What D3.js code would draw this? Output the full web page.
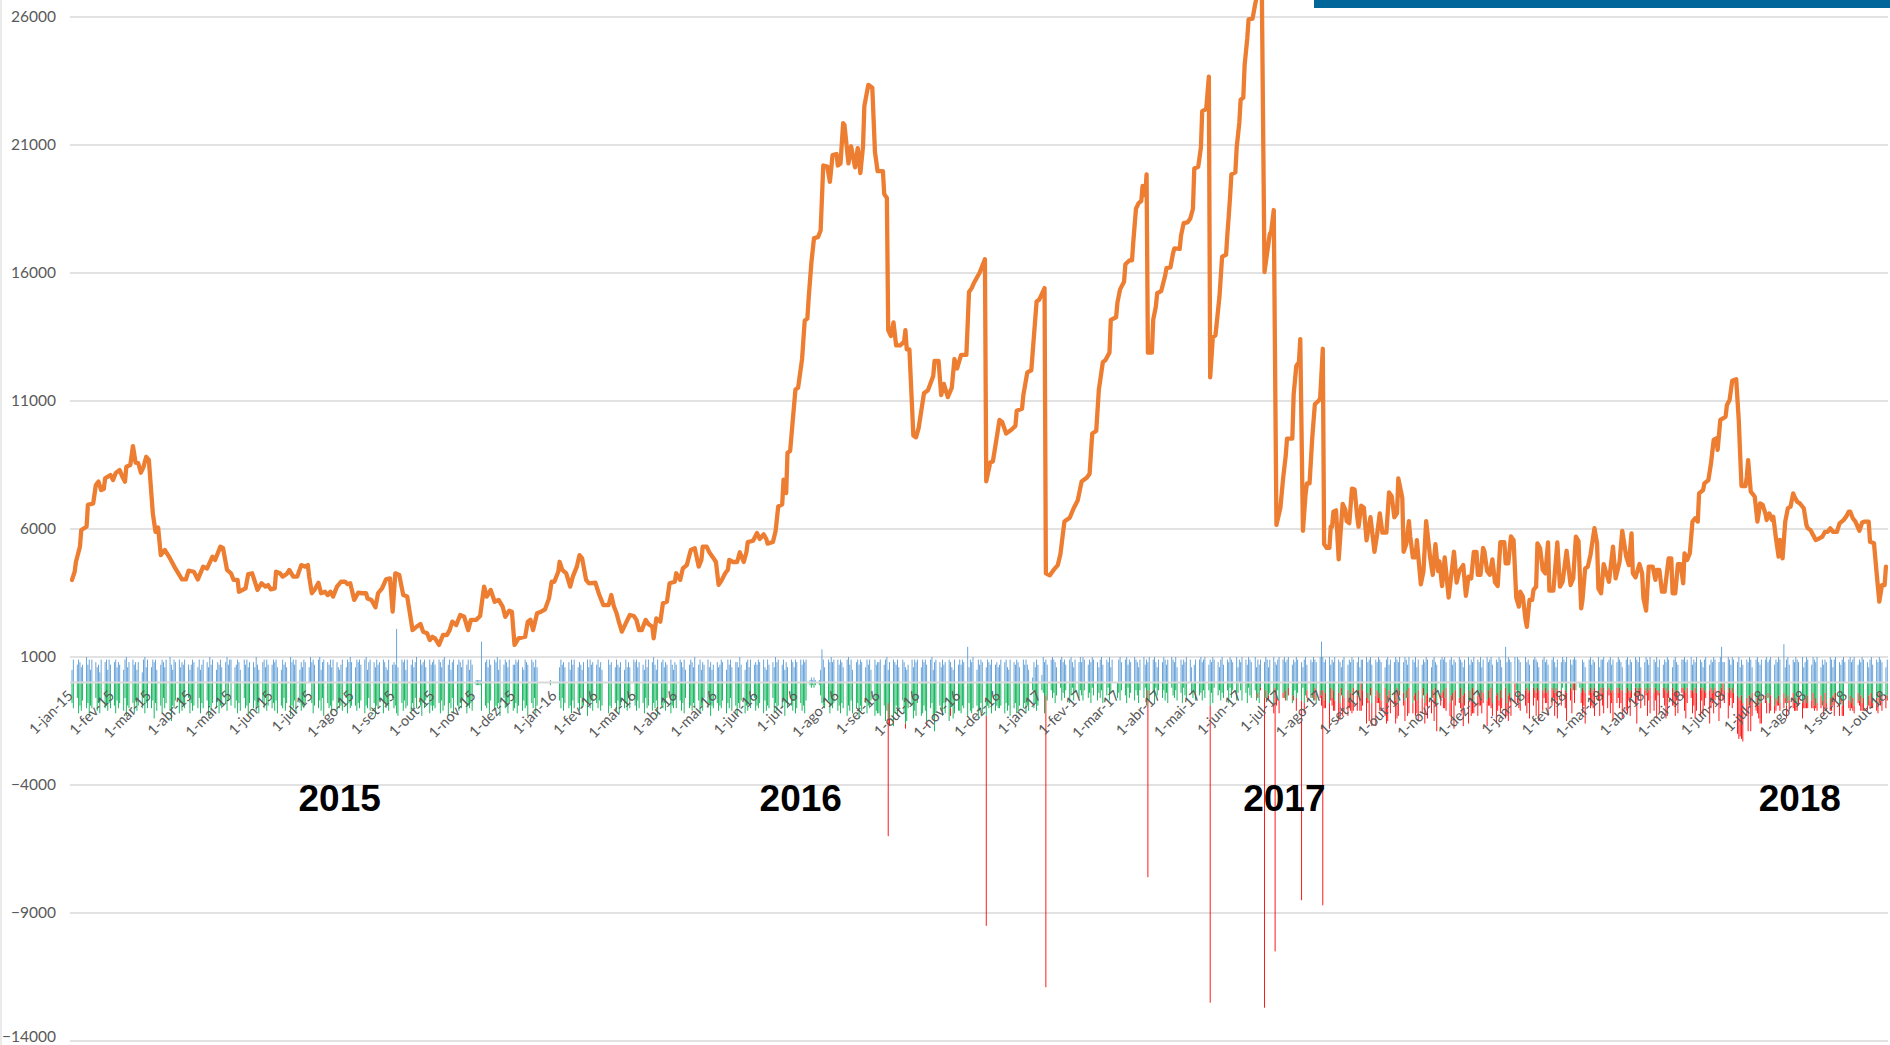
<!DOCTYPE html>
<html>
<head>
<meta charset="utf-8">
<script src="https://cdn.jsdelivr.net/npm/d3@7"></script>
<style>
  html, body { margin: 0; padding: 0; background: #ffffff; }
  svg { display: block; }
</style>
</head>
<body>
<svg id="chart" width="1890" height="1045"></svg>
<script>
// ---------------------------------------------------------------
// Data
// ---------------------------------------------------------------
const yTicks = [-14000, -9000, -4000, 1000, 6000, 11000, 16000, 21000, 26000];
const monthNames = ["jan", "fev", "mar", "abr", "mai", "jun", "jul", "ago", "set", "out", "nov", "dez"];
const yearLabels = ["2015", "2016", "2017", "2018"];
const yearLabelDates = ["2015-07-22", "2016-07-04", "2017-07-04", "2018-07-28"];

// Daily series (business days). One string per month, one character per day,
// value in hundreds written in base 36 ("a" = 1000, "g" = 1600 ...).
const blue2015 = ["5979867a795986749895976", "8968759a689785849a69786", "6989579869a759896879758", "7986957986a79587968a796",
  "9679859796886a758969786", "7989659786a8979586986a9", "8979a5898796986579698a8", "698979a5898697898659797",
  "87l6989597968a978969785", "979869a7958979869795978", "1111g8969798a5979869798", "79896598798696000001000"];
const blue2016 = ["0697868597968758969786", "796850097869768596869", "8968759698a759896879758", "7986957986a795879685796",
  "8679859796886a758969786", "7989659786a897958698697", "8979891212115d9698a89", "979869a7958979869795978",
  "8979a589879698657969897", "698979a5898697898659797", "9798e698a59798698797869", "7989659879869797528697"];
const blue2017 = ["3a8979a9869a8979a8698a9", "8a9798a9869a798a6900", "9a89a798a9869a798a9a869a", "8a979a98a69798a96079a8",
  "9a89a798a9869a798a98a698a", "8a97a98a69798a969a879a8", "9a89a798a9869a798a98a698", "ga89a798a9869a798a98a698a",
  "9a89a798a9869a798a98a6", "8a97a98a69798a969a879a8", "9a89a798a9869a798a98a69", "9a89a798a96e8a98a0a988"];
const blue2018 = ["0a8979a9869a8979a8698a9", "8a979a9009869a798a69", "9a89a798a9869a798a98a69", "8a97a98a69798a969a879a8",
  "9a89a798a9869a798a98ae8", "8a97a98a69798a969a879a8", "9a89a798a9f69a798a98a69", "8a97a98a69798a969a879a8",
  "9a89a798a9869a798a985", "69"];

const green2015 = ["8a6c9b7a8d9a6b8c7a9b8a", "9c7a8b6d9a8c7b9a6c8a", "a7e8b9c6a8bf9a7c8b9a6c", "8b9a6c8a7d9b8a6c9a8b7",
  "9a7c8b6a9d8a7b9c8a6b9", "a8b7c9a6b8d9a7c8b9a8", "8c9a7b6d8a9c7b8a9b6c8a9", "9b8a7c9a6b8d9a7c8a9b6",
  "a9cd8b7a9c8b6a9d8a7c9b", "9a8c7b9d8a6c9b8a7c9a8b", "1111b9a8c7b9a8d6a9c8b7a", "a8c9b7a9d8a6c9000001000"];
const green2016 = ["07a6b8a9c7a8b6a9d8a7b", "8a7b900c9a8b7c9a8b6a", "9b7a8c6a9b8a7d9a8b6c9a7", "a7b8c6a9b8a7c9b6a8d9a",
  "8b9a7c8a6b9d8a7c9b8a6b", "9a8c7b9a6c8b9a7d8a9b7c", "a8b9c7121211589a7c9a8", "b9c8ad9b7ca8e9b8c9a7dbca9",
  "cd9fb8ehc9db7cgfa9ebd8", "dc9bfa8ejc9bd8cfa9ecb9a", "bc9ad8bca9eb8cd9a8cb9ac", "a9c8b9da8cb9a8c9b3a8b9"];
const green2017 = ["34c5736485274638527463", "57364825746385274006", "47358264735836293748253", "6374825637482560463728",
  "5473639482537463826374", "3748256374826375482637", "4637285364728536472836", "5374826374825637482536",
  "3647285364728536472835", "4736285473628547362854", "3628547362854736285473", "4736285473628547036485"];
const green2018 = ["0324323423342432342332", "34230032423432432342", "4232343242334234324232", "3243242334232432433423",
  "2342334242323432432342", "3423245675869574869587", "5748596758469574869587", "6857496857948695748697",
  "7586947586957486947586", "65"];

const red2015 = ["", "", "", "", "", "", "", "", "", "", "", ""];
const red2016 = ["", "", "", "", "", "", "", "", "0000003000000020000000", "0000200000000000300000", "", ""];
const red2017 = ["", "", "", "", "", "0000000002010302040305", "2040302050204030205030",
  "4836a5384b6385a3749625b", "6a4839c5274b8a3649c5284", "5837a4295c6384a5397b426", "7495a3b6284c5937a48529",
  "4a6385b7294c5a36802637"];
const red2018 = ["06a4b7395c8264a7395b6", "7b5938004a6c2857b493", "5a7394c6285b7a4936c5284", "6394a75b2846c9375a4826",
  "48a6395c7b4a62d8495c6374", "5a7384fgehf7a4c9365b84a", "3524635243625346352463", "4253624352463524635246",
  "3625342635243625342635", "42"];

// Large one-day outflows
const redSpikeDates = ["2016-09-08", "2016-11-21", "2017-01-05", "2017-03-23", "2017-05-09",
  "2017-06-19", "2017-06-27", "2017-07-17", "2017-08-02"];
const redSpikeValues = [5200, 8200, 11400, 7300, 11600, 12100, 10300, 7800, 8400];

// Balance line: [days since 1-jan-2015, value]
const line2015 = [[0,4010],[2,4330],[3,4720],[6,5310],[7,5960],[11,6090],[12,6940],[16,7000],[18,7720],[20,7850],[22,7520],[24,7560],[25,7980],[29,8110],[31,7910],[33,8190],[36,8300],[38,8040],[40,7850],[41,8430],[44,8500],[46,9240],[48,8590],[50,8570],[52,8200],[54,8430],[56,8820],[58,8700],[61,6610],[63,5890],[65,6060],[67,4980],[70,5180],[74,4850],[78,4460],[83,4030],[86,4030],[88,4370],[92,4330],[95,4030],[99,4530],[102,4460],[106,4920],[108,4790],[112,5310],[114,5250],[117,4400],[120,4270],[122,4010],[125,4010],[126,3550],[131,3680],[133,4240],[136,4270],[140,3620],[143,3880],[146,3750],[148,3810],[150,3640],[153,3680],[154,4330],[157,4270],[159,4140],[162,4240],[164,4400],[167,4140],[170,4140],[173,4590],[176,4530],[178,4590],[179,4140],[181,3490],[183,3620],[186,3900],[188,3490],[191,3550],[193,3420],[195,3550],[197,3360],[200,3750],[203,3940],[206,3940],[208,3850],[210,3880],[213,3230],[216,3510],[219,3490],[222,3490],[223,3290],[226,3230],[229,2940],[231,3490],[234,3680],[237,4030],[240,4070],[242,2770],[244,4270],[247,4200],[250,3420],[253,3360],[255,2710],[257,2050],[260,2180],[263,2290],[265,1990],[268,1930],[270,1660],[272,1790],[274,1730],[277,1470],[280,1860],[283,1860],[285,2050],[287,2380],[290,2250],[293,2640],[296,2570],[299,2050],[301,2450],[305,2450],[308,2600],[311,3750],[313,3360],[316,3620],[319,3160],[322,3230],[325,2970],[327,2570],[330,2810],[332,2770],[334,1470],[337,1730],[342,1790],[344,2380],[346,2450],[348,2050],[351,2710],[354,2770],[357,2860],[360,3290],[362,3940],[364,3940]];
const line2016 = [[367,4330],[368,4720],[370,4400],[373,4270],[376,3750],[378,4140],[381,4530],[383,4980],[385,4850],[388,4010],[390,3880],[395,3900],[398,3420],[401,3030],[405,3030],[407,3420],[409,2970],[411,2710],[413,2320],[415,1990],[418,2320],[421,2640],[424,2600],[426,2450],[428,2050],[430,2050],[433,2450],[435,2290],[438,2180],[439,1730],[441,2510],[444,2380],[446,3100],[449,3160],[451,3880],[455,3940],[456,4270],[459,4010],[461,4460],[464,4590],[467,5180],[470,5250],[473,4530],[475,4790],[476,5310],[479,5310],[481,5090],[484,4870],[486,4710],[488,3820],[490,3970],[493,4270],[495,4410],[496,4790],[499,4710],[502,4710],[504,5090],[507,4710],[509,5090],[510,5490],[514,5540],[517,5840],[519,5610],[522,5790],[524,5610],[525,5430],[529,5490],[531,5910],[533,6880],[536,6960],[537,7930],[539,7400],[540,8980],[542,9050],[544,10260],[546,11450],[548,11520],[551,12640],[553,14140],[555,14220],[556,15040],[558,16390],[560,17360],[563,17400],[565,17660],[567,20200],[570,20160],[572,19560],[574,20610],[577,20650],[578,20200],[580,20280],[582,21850],[583,21780],[586,20280],[588,20950],[591,20130],[593,20880],[595,19900],[597,20950],[598,22520],[601,23350],[604,23240],[606,20730],[608,19980],[612,19980],[613,19080],[615,18930],[616,13770],[618,13540],[620,14070],[622,13170],[625,13170],[628,13320],[629,13770],[630,13020],[632,13020],[635,9650],[637,9580],[639,9950],[643,11300],[646,11420],[650,11980],[651,12570],[654,12570],[656,11230],[658,11670],[661,11150],[664,11520],[666,12640],[668,12270],[671,12800],[675,12800],[677,15260],[679,15410],[681,15640],[685,16010],[689,16540],[690,7860],[693,8600],[695,8640],[697,9280],[700,10260],[702,10180],[705,9730],[709,9880],[712,10030],[713,10620],[717,10700],[718,11230],[721,12120],[724,12200],[728,14890],[730,14960]];
const line2017 = [[734,15410],[735,4270],[738,4190],[741,4410],[744,4590],[746,5020],[749,6290],[753,6440],[756,6810],[759,7110],[762,7860],[766,8010],[768,8160],[770,9730],[773,9830],[775,11450],[778,12520],[780,12600],[783,12890],[784,14170],[788,14270],[789,14840],[791,15360],[794,15660],[795,16340],[798,16490],[800,16490],[801,17230],[803,18510],[805,18730],[807,18810],[808,19400],[810,19030],[811,19850],[812,12890],[815,12890],[816,14170],[818,14690],[819,15210],[822,15290],[825,15890],[826,16190],[829,16220],[831,16780],[832,16960],[836,16940],[837,17460],[839,17950],[842,17980],[844,18130],[846,18510],[847,20080],[850,20150],[852,20900],[853,22320],[856,22400],[858,23670],[859,11920],[861,13490],[863,13570],[866,15070],[868,16640],[871,16710],[872,17530],[873,18210],[874,18960],[875,19850],[878,19930],[879,20900],[881,21870],[882,22770],[884,22850],[885,24120],[887,25170],[888,25910],[891,25940],[893,26510],[895,27000],[898,27000],[900,16040],[904,17530],[905,17610],[907,18460],[909,6160],[912,6830],[914,7950],[916,8850],[917,9530],[921,9530],[922,11250],[924,12370],[926,12520],[927,13420],[929,5930],[931,7360],[932,7780],[934,7780],[936,9530],[938,10870],[941,11020],[942,11100],[944,13040],[945,5410],[947,5260],[949,5260],[950,6090],[951,6090],[952,6680],[954,6730],[956,4810],[957,5560],[959,6980],[961,6760],[962,6310],[964,6230],[966,7580],[968,7540],[970,6460],[971,6090],[973,6910],[975,6830],[977,5560],[980,6460],[983,5110],[985,5790],[987,6610],[989,5860],[992,5860],[994,7430],[996,7280],[998,6460],[1000,6610],[1001,7980],[1004,7210],[1005,5110],[1007,5410],[1009,6310],[1010,5710],[1012,4890],[1014,4890],[1015,5560],[1018,3840],[1020,4360],[1022,6310],[1025,4890],[1027,4210],[1029,5410],[1031,4360],[1032,4740],[1034,3770],[1036,4890],[1039,3320],[1041,4210],[1043,5110],[1045,3910],[1047,4360],[1050,4590],[1052,3390],[1054,4140],[1056,4070],[1058,5110],[1060,5110],[1061,4210],[1063,4210],[1065,5260],[1066,5110],[1068,4360],[1070,4210],[1072,4810],[1074,3910],[1076,3770],[1078,5490],[1081,5490],[1082,4660],[1084,4660],[1086,5710],[1088,5560],[1090,3320],[1092,2970],[1093,3550],[1095,3360]];
const line2018 = [[1097,2450],[1098,2180],[1100,3230],[1102,3230],[1103,3620],[1105,3750],[1106,5440],[1108,5250],[1110,4400],[1112,4270],[1114,5480],[1115,3590],[1118,3590],[1121,5480],[1123,3750],[1125,3940],[1128,5150],[1131,3810],[1133,4070],[1135,5700],[1137,5530],[1139,2900],[1140,3230],[1142,4460],[1144,4530],[1146,4980],[1149,6030],[1151,5440],[1152,3680],[1154,3490],[1156,4630],[1158,4270],[1160,3940],[1163,5310],[1165,4070],[1168,4720],[1170,5930],[1173,4920],[1175,4590],[1177,5830],[1178,4270],[1180,4110],[1183,4630],[1185,4270],[1186,3290],[1188,2810],[1190,4530],[1193,4530],[1195,4010],[1196,4400],[1198,4400],[1200,3550],[1202,3550],[1205,4850],[1207,4850],[1208,3490],[1210,3490],[1212,4630],[1214,4630],[1216,3880],[1217,5050],[1219,4790],[1221,5050],[1223,6290],[1225,6420],[1227,6290],[1228,7390],[1231,7520],[1232,7780],[1235,7910],[1237,8570],[1239,9480],[1241,9540],[1242,9090],[1244,10260],[1246,10320],[1248,10390],[1249,10840],[1251,11040],[1253,11790],[1256,11850],[1258,10190],[1259,8890],[1260,7680],[1263,7680],[1264,8040],[1265,8690],[1267,7460],[1269,7330],[1270,7260],[1272,6290],[1273,6610],[1274,7000],[1276,6940],[1278,6610],[1279,6350],[1281,6610],[1283,6350],[1284,6480],[1286,5640],[1288,4920],[1289,5570],[1291,4850],[1293,6290],[1295,6810],[1297,6870],[1299,7390],[1300,7260],[1302,7070],[1304,7000],[1307,6810],[1309,6160],[1310,6030],[1312,5960],[1314,5770],[1316,5570],[1319,5640],[1321,5700],[1323,5890],[1325,5890],[1327,6030],[1329,5890],[1332,5890],[1334,6220],[1337,6350],[1339,6480],[1341,6680],[1342,6680],[1344,6420],[1346,6290],[1349,5930],[1351,6250],[1353,6290],[1356,6290],[1357,5500],[1360,5440],[1362,4270],[1364,3160],[1366,3810],[1368,3810],[1369,4530]];

// ---------------------------------------------------------------
// Layout
// ---------------------------------------------------------------
const W = 1890, H = 1045;
const plotLeft = 70, plotRight = 1888;
const startDate = new Date(Date.UTC(2015, 0, 1));
const endDate = new Date(Date.UTC(2018, 9, 3));

const svg = d3.select("#chart");

const x = d3.scaleUtc()
  .domain([startDate, endDate])
  .range([72, 72 + 1.325 * 1371]);

const y = d3.scaleLinear()
  .domain([-14000, 26000])
  .range([1041, 17]);

const parseDay = d3.utcParse("%Y-%m-%d");
const dayToDate = d => d3.utcDay.offset(startDate, d);

// ---------------------------------------------------------------
// Build daily bar records from the month strings
// ---------------------------------------------------------------
const years = [2015, 2016, 2017, 2018];
const blueByYear = [blue2015, blue2016, blue2017, blue2018];
const greenByYear = [green2015, green2016, green2017, green2018];
const redByYear = [red2015, red2016, red2017, red2018];

const decode = (str, i) => {
  if (!str || i >= str.length) return 0;
  return parseInt(str[i], 36) * 100;
};

const days = [];
years.forEach((yr, yi) => {
  for (let m = 0; m < 12; m++) {
    const b = blueByYear[yi][m];
    if (b === undefined) continue;
    const weekdays = d3.utcDay.range(new Date(Date.UTC(yr, m, 1)), new Date(Date.UTC(yr, m + 1, 1)))
      .filter(d => d.getUTCDay() % 6 !== 0);
    weekdays.forEach((date, i) => {
      if (i >= b.length) return;
      days.push({
        date,
        blue: decode(b, i),
        green: decode(greenByYear[yi][m], i),
        red: decode(redByYear[yi][m], i)
      });
    });
  }
});
const byKey = new Map(days.map(d => [d3.utcFormat("%Y-%m-%d")(d.date), d]));
redSpikeDates.forEach((k, i) => {
  const rec = byKey.get(k);
  if (rec) rec.red = redSpikeValues[i];
});

// ---------------------------------------------------------------
// Frame, grid, y labels
// ---------------------------------------------------------------
svg.append("rect").attr("x", 0).attr("y", 0).attr("width", W).attr("height", H).attr("fill", "#ffffff");
svg.append("line").attr("x1", 1).attr("x2", 1).attr("y1", 0).attr("y2", H)
  .attr("stroke", "#e3e3e3").attr("stroke-width", 1.5);

const grid = svg.append("g").attr("class", "grid");
grid.selectAll("line").data(yTicks).join("line")
  .attr("x1", plotLeft).attr("x2", plotRight)
  .attr("y1", d => y(d)).attr("y2", d => y(d))
  .attr("stroke", "#d9d9d9").attr("stroke-width", 1.3);

const yAxis = d3.axisLeft(y).tickValues(yTicks).tickSize(0).tickPadding(0).tickFormat(d3.format("d"));
const yg = svg.append("g").attr("transform", `translate(56,0)`).call(yAxis);
yg.select(".domain").remove();
yg.selectAll("text")
  .attr("font-family", "Lato, 'Open Sans', sans-serif")
  .attr("font-size", 15.5)
  .attr("fill", "#595959");
// keep the lowest label inside the canvas
yg.selectAll(".tick").filter(d => d === -14000).select("text").attr("dy", "0em");

// ---------------------------------------------------------------
// Bars
// ---------------------------------------------------------------
const barW = 0.9;
const bars = svg.append("g").attr("class", "bars");
bars.selectAll("rect.blue").data(days.filter(d => d.blue > 0)).join("rect")
  .attr("class", "blue")
  .attr("x", d => x(d.date) - barW / 2).attr("width", barW)
  .attr("y", d => y(d.blue)).attr("height", d => y(0) - y(d.blue))
  .attr("fill", "#5b9bd5");
bars.selectAll("rect.green").data(days.filter(d => d.green > 0)).join("rect")
  .attr("class", "green")
  .attr("x", d => x(d.date) - barW / 2).attr("width", barW)
  .attr("y", y(0)).attr("height", d => y(-d.green) - y(0))
  .attr("fill", "#00b050");
bars.selectAll("rect.red").data(days.filter(d => d.red > 0)).join("rect")
  .attr("class", "red")
  .attr("x", d => x(d.date) - barW / 2).attr("width", barW)
  .attr("y", d => y(-d.green)).attr("height", d => y(-d.green - d.red) - y(-d.green))
  .attr("fill", "#ff0000");

// Horizontal category axis line at zero
svg.append("line").attr("x1", plotLeft).attr("x2", plotRight)
  .attr("y1", y(0)).attr("y2", y(0))
  .attr("stroke", "#d9d9d9").attr("stroke-width", 2);

// Month labels
const months = d3.utcMonth.range(startDate, endDate);
const fmtLabel = d => `1-${monthNames[d.getUTCMonth()]}-${String(d.getUTCFullYear()).slice(2)}`;
svg.append("g").attr("class", "xlabels").selectAll("text").data(months).join("text")
  .attr("transform", d => `translate(${x(d) + 2},${y(0) + 14}) rotate(-45)`)
  .attr("text-anchor", "end")
  .attr("font-family", "Lato, 'Open Sans', sans-serif")
  .attr("font-size", 14.5)
  .attr("fill", "#595959")
  .text(fmtLabel);

// ---------------------------------------------------------------
// Balance line
// ---------------------------------------------------------------
const linePts = [].concat(line2015, line2016, line2017, line2018);
const lineGen = d3.line()
  .x(d => x(dayToDate(d[0])))
  .y(d => y(d[1]));
svg.append("path")
  .datum(linePts)
  .attr("d", lineGen)
  .attr("fill", "none")
  .attr("stroke", "#ed7d31")
  .attr("stroke-width", 4.3)
  .attr("stroke-linejoin", "round")
  .attr("stroke-linecap", "round");

// ---------------------------------------------------------------
// Year captions
// ---------------------------------------------------------------
svg.append("g").selectAll("text").data(yearLabels).join("text")
  .attr("x", (d, i) => x(parseDay(yearLabelDates[i])))
  .attr("y", 811)
  .attr("text-anchor", "middle")
  .attr("font-family", "'Liberation Sans', Arial, sans-serif")
  .attr("font-weight", "bold")
  .attr("font-size", 37)
  .attr("fill", "#000000")
  .text(d => d);

// Header band
svg.append("rect").attr("x", 1314).attr("y", 0).attr("width", W - 1314).attr("height", 8)
  .attr("fill", "#03669a");
</script>
</body>
</html>
